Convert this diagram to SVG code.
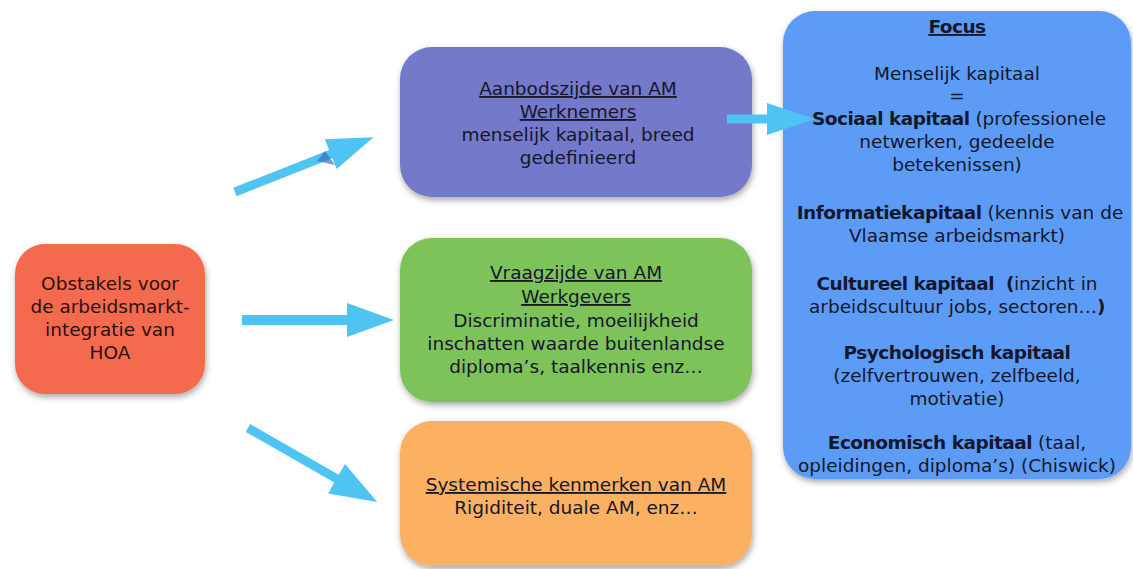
<svg xmlns="http://www.w3.org/2000/svg" width="1133" height="569" viewBox="0 0 1133 569">
<defs>
<filter id="sh" x="-10%" y="-10%" width="120%" height="125%">
<feDropShadow dx="1" dy="3" stdDeviation="3" flood-color="#000" flood-opacity="0.35"/>
</filter>
<style>
text{font-family:"DejaVu Sans","Open Sans",sans-serif;font-size:18.5px;text-anchor:middle;fill:#15172b}
.u{text-decoration:underline}
.b{font-weight:bold;letter-spacing:-0.5px}
.r{fill:#2a1210}
.arrow{fill:#4fc4f2}
</style>
</defs>
<rect width="1133" height="569" fill="#ffffff"/>
<g id="node-obstakels">
<rect x="15" y="244" width="190" height="150" rx="30" fill="#f46a4f" filter="url(#sh)"/>
<text x="110" y="290" class="r">Obstakels voor</text>
<text x="110" y="313" class="r">de arbeidsmarkt-</text>
<text x="110" y="336" class="r">integratie van</text>
<text x="110" y="359" class="r">HOA</text>
</g>
<g id="node-aanbod">
<rect x="400" y="47" width="352" height="150" rx="32" fill="#7479c9" filter="url(#sh)"/>
<text x="578" y="95" class="u">Aanbodszijde van AM</text>
<text x="578" y="118" class="u">Werknemers</text>
<text x="578" y="141">menselijk kapitaal, breed</text>
<text x="578" y="164">gedefinieerd</text>
</g>
<g id="node-vraag">
<rect x="400" y="238" width="352" height="164" rx="32" fill="#7dc35a" filter="url(#sh)"/>
<text x="576" y="279" class="u">Vraagzijde van AM</text>
<text x="576" y="303" class="u">Werkgevers</text>
<text x="576" y="327">Discriminatie, moeilijkheid</text>
<text x="576" y="350">inschatten waarde buitenlandse</text>
<text x="576" y="373">diploma’s, taalkennis enz…</text>
</g>
<g id="node-systemisch">
<rect x="400" y="421" width="352" height="145" rx="32" fill="#fbb062" filter="url(#sh)"/>
<text x="576" y="491" class="u">Systemische kenmerken van AM</text>
<text x="576" y="514">Rigiditeit, duale AM, enz…</text>
</g>
<g id="node-focus">
<rect x="783" y="11" width="348" height="468" rx="32" fill="#5b9cf6" filter="url(#sh)"/>
<text x="957" y="33" class="u b">Focus</text>
<text x="957" y="80">Menselijk kapitaal</text>
<text x="957" y="102">=</text>
<text x="959" y="125"><tspan class="b">Sociaal kapitaal</tspan> (professionele</text>
<text x="957" y="148">netwerken, gedeelde</text>
<text x="957" y="171">betekenissen)</text>
<text x="960" y="219"><tspan class="b">Informatiekapitaal</tspan> (kennis van de</text>
<text x="957" y="242">Vlaamse arbeidsmarkt)</text>
<text x="957" y="290"><tspan class="b">Cultureel kapitaal</tspan><tspan class="b" xml:space="preserve">  (</tspan>inzicht in</text>
<text x="957" y="313">arbeidscultuur jobs, sectoren…<tspan class="b">)</tspan></text>
<text x="957" y="359" class="b">Psychologisch kapitaal</text>
<text x="957" y="382">(zelfvertrouwen, zelfbeeld,</text>
<text x="957" y="405">motivatie)</text>
<text x="957" y="449"><tspan class="b">Economisch kapitaal</tspan> (taal,</text>
<text x="957" y="472">opleidingen, diploma’s) (Chiswick)</text>
</g>
<g id="connectors">
<path class="arrow" transform="translate(235,192) rotate(-21.6)" d="M0,-4.5 H103 V-16 L149,0 L103,16 V4.5 H0 Z"/>
<path d="M317,161 L325,151 L335,165 Z" fill="#3b6fbd" opacity="0.7"/>
<path class="arrow" transform="translate(242,320)" d="M0,-5 H105 V-17 L152,0 L105,17 V5 H0 Z"/>
<path class="arrow" transform="translate(248,428) rotate(29.8)" d="M0,-4.5 H102 V-17 L149,0 L102,17 V4.5 H0 Z"/>
<path class="arrow" transform="translate(727,119)" d="M0,-4.5 H40 V-16 L88,0 L40,16 V4.5 H0 Z"/>
</g>
</svg>
